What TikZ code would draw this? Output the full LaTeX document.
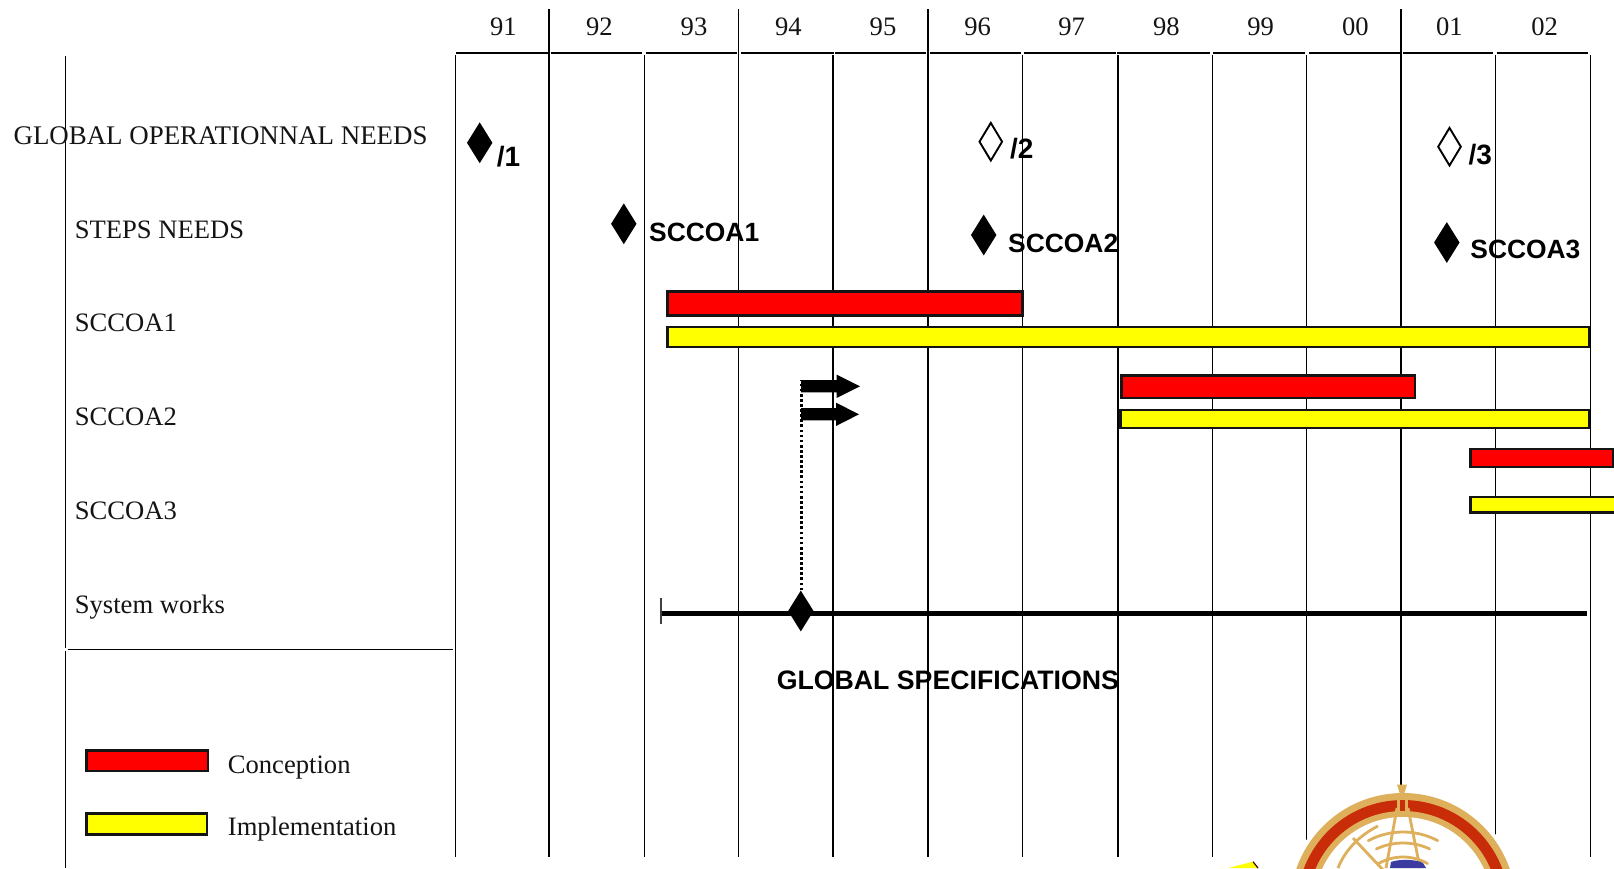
\documentclass[tikz,border=0pt]{standalone}
\usepackage{fontspec}
\setmainfont{Liberation Serif}
\newfontfamily\arialb[BoldFont={Liberation Sans Bold}]{Liberation Sans}
\usetikzlibrary{shapes.geometric}
\definecolor{barred}{RGB}{255,0,0}
\definecolor{baryel}{RGB}{255,255,0}
\definecolor{ltan}{RGB}{222,176,92}
\definecolor{lred}{RGB}{200,44,8}
\definecolor{lblue}{RGB}{60,60,160}
\tikzset{
  serif/.style={inner sep=0pt,anchor=base west,font=\fontsize{26.6}{30}\selectfont,text=black!92},
  yearlab/.style={inner sep=0pt,anchor=base,font=\fontsize{26.6}{30}\selectfont,text=black!92},
  boldlab/.style={inner sep=0pt,anchor=base west,font=\arialb\bfseries\fontsize{26.4}{30}\selectfont},
  boldnum/.style={inner sep=0pt,anchor=base west,font=\arialb\bfseries\fontsize{28}{30}\selectfont},
  thin grid/.style={line width=1.5pt},
  thick grid/.style={line width=2.1pt},
  headrule/.style={line width=2pt},
  gantt/.style={draw=black!92,line width=2.6pt,miter limit=10},
  redbar/.style={gantt,fill=barred},
  yelbar/.style={gantt,fill=baryel},
  fullmark/.style={diamond,fill=black,draw=none,inner sep=0pt,minimum width=25.6pt,minimum height=41pt},
  openmark/.style={diamond,fill=white,draw=black,line width=1.9pt,inner sep=0pt,minimum width=23.4pt,minimum height=38.4pt},
  fatarrow/.style={fill=black,draw=none},
}
\begin{document}
\begin{tikzpicture}[x=1pt,y=-1pt]
\useasboundingbox (0,0) rectangle (1614,868);
\clip (0,0) rectangle (1614,868);
\fill[white] (0,0) rectangle (1614,868);

% left frame
\draw[thin grid] (65.7,55.5) -- (65.7,648);
\draw[thin grid] (65.7,651) -- (65.7,868);
\draw[line width=1.2pt] (68,649.4) -- (452.7,649.4);

% long grid lines
\foreach \gx in {549,927.7,1401}
  \draw[thick grid] (\gx,9) -- (\gx,856.7);
\draw[thin grid] (738.3,9) -- (738.3,856.7);
% short grid lines
\foreach \gx in {455.4,644.3,1022.3,1212.7,1306.7,1495.4,1590.3}
  \draw[thin grid] (\gx,55.3) -- (\gx,856.7);
\foreach \gx in {833,1118}
  \draw[thick grid] (\gx,55.3) -- (\gx,856.7);

% header rule
\foreach \ga/\gb in {456/548.3,550.7/642,645.7/736.7,741/833.7,835/926,930/1020.7,1024.3/1116,1117.3/1210,1213.3/1305,1309/1400,1403/1492.7,1496.7/1588}
  \draw[headrule] (\ga,52.7) -- (\gb,52.7);

% years
\foreach \yx/\yl in {503.3/91,599.3/92,694/93,788.3/94,883/95,977.7/96,1071.7/97,1166.3/98,1260.7/99,1355.3/00,1449.3/01,1544.7/02}
  \node[yearlab] (year\yl) at (\yx,35.3) {\yl};

% row labels
\node[serif,font=\fontsize{26.9}{30}\selectfont] (lglobal) at (13.4,144) {GLOBAL OPERATIONNAL NEEDS};
\node[serif] (lsteps) at (74.7,238) {STEPS NEEDS};
\node[serif] (lone) at (74.7,331.7) {SCCOA1};
\node[serif] (ltwo) at (74.7,425.4) {SCCOA2};
\node[serif] (lthree) at (74.7,519) {SCCOA3};
\node[serif] (lsys) at (74.7,613.7) {System works};

% bars
\draw[redbar] (667.2,291.2) rectangle (1022.6,315.2);
\draw[yelbar] (667.5,327) rectangle (1589,347);
\draw[redbar] (1121.2,375.5) rectangle (1414.8,397.8);
\draw[yelbar] (1120.5,410) rectangle (1588.8,427.8);
\draw[redbar] (1470.5,449) rectangle (1613.6,467);
\draw[yelbar] (1470.5,497) rectangle (1620,512.5);

% milestones
\node[fullmark] (m1) at (479.7,142.8) {};
\node[boldnum] (t1) at (496.7,166.6) {/1};
\node[openmark] (m2) at (990.8,141.7) {};
\node[boldnum] (t2) at (1010,158.6) {/2};
\node[openmark] (m3) at (1449.5,146.7) {};
\node[boldnum] (t3) at (1468.3,164.4) {/3};
\node[fullmark] (s1) at (623.8,223.8) {};
\node[boldlab] (ts1) at (649,241.3) {SCCOA1};
\node[fullmark] (s2) at (983.7,235) {};
\node[boldlab] (ts2) at (1008,252.4) {SCCOA2};
\node[fullmark] (s3) at (1446.8,242.5) {};
\node[boldlab] (ts3) at (1470.2,258) {SCCOA3};

% system works line
\coordinate (sysstart) at (660.7,613.3);
\coordinate (sysend) at (1587,613.3);
\draw[line width=5pt] (sysstart) -- (sysend);
\draw[line width=2.3pt,black!75] (660.7,598.3) -- (660.7,624);
\node[fullmark] (gs) at (800.8,611) {};
\node[boldlab,font=\arialb\bfseries\fontsize{26.7}{30}\selectfont] (tgs) at (776.6,689) {GLOBAL SPECIFICATIONS};

% dotted link
\coordinate (dottop) at (801.7,380);
\draw[line width=2.8pt,dash pattern=on 2.7pt off 2.4pt] (gs.north) ++(0.9,0) -- (dottop);

% arrows
\fill[fatarrow] (801,380) -- (836.7,380) -- (836.7,374.7) -- (860,386.3) -- (836.7,398) -- (836.7,392.3) -- (801,392.3) -- cycle;
\fill[fatarrow] (801,408) -- (836,408) -- (836,402.7) -- (859,414.3) -- (836,426) -- (836,420.3) -- (801,420.3) -- cycle;

% legend
\draw[redbar] (86.5,750.5) rectangle (208,771);
\node[serif] (lcon) at (227.7,773.7) {Conception};
\draw[yelbar] (86.5,813.5) rectangle (207,834.5);
\node[serif] (limp) at (227.7,835) {Implementation};

% emblem (cut by the lower edge)
\fill[white] (1403,906) circle (117);
\fill[ltan] (1403,906) circle (113);
\fill[lred] (1403,906) circle (106);
\fill[ltan] (1403,906) circle (95);
\fill[white] (1403,906) circle (89);
\foreach \er/\ea/\eb in {74/-62/-118,63/-65/-115,49/-60/-120}
  \draw[ltan,line width=2.8pt,line cap=round] (1403,906) ++(\ea:\er) arc[start angle=\ea,end angle=\eb,radius=\er];
\draw[ltan,line width=2.8pt] (1353,838) -- (1385,872);
\draw[ltan,line width=2.8pt] (1338,868) .. controls (1345,850) and (1360,835) .. (1378,826);
\fill[ltan] (1397,784.5) -- (1407,784.5) -- (1403.5,796) -- (1400.5,796) -- cycle;
\draw[ltan,line width=2.6pt] (1398.5,796) -- (1398.5,812) (1406.5,796) -- (1406.5,812);
\draw[ltan,line width=2.8pt] (1397,808) -- (1386,868) (1408,808) -- (1420,868);
\fill[lblue] (1390,868) -- (1391,862) .. controls (1398,859) and (1416,859) .. (1423,863) -- (1426,868) -- cycle;

% yellow fragment
\fill[baryel] (1228,868) -- (1253,861.7) -- (1258,868) -- cycle;
\draw[black!70!red,line width=1.2pt] (1253,861.7) -- (1258,868);
\end{tikzpicture}
\end{document}
